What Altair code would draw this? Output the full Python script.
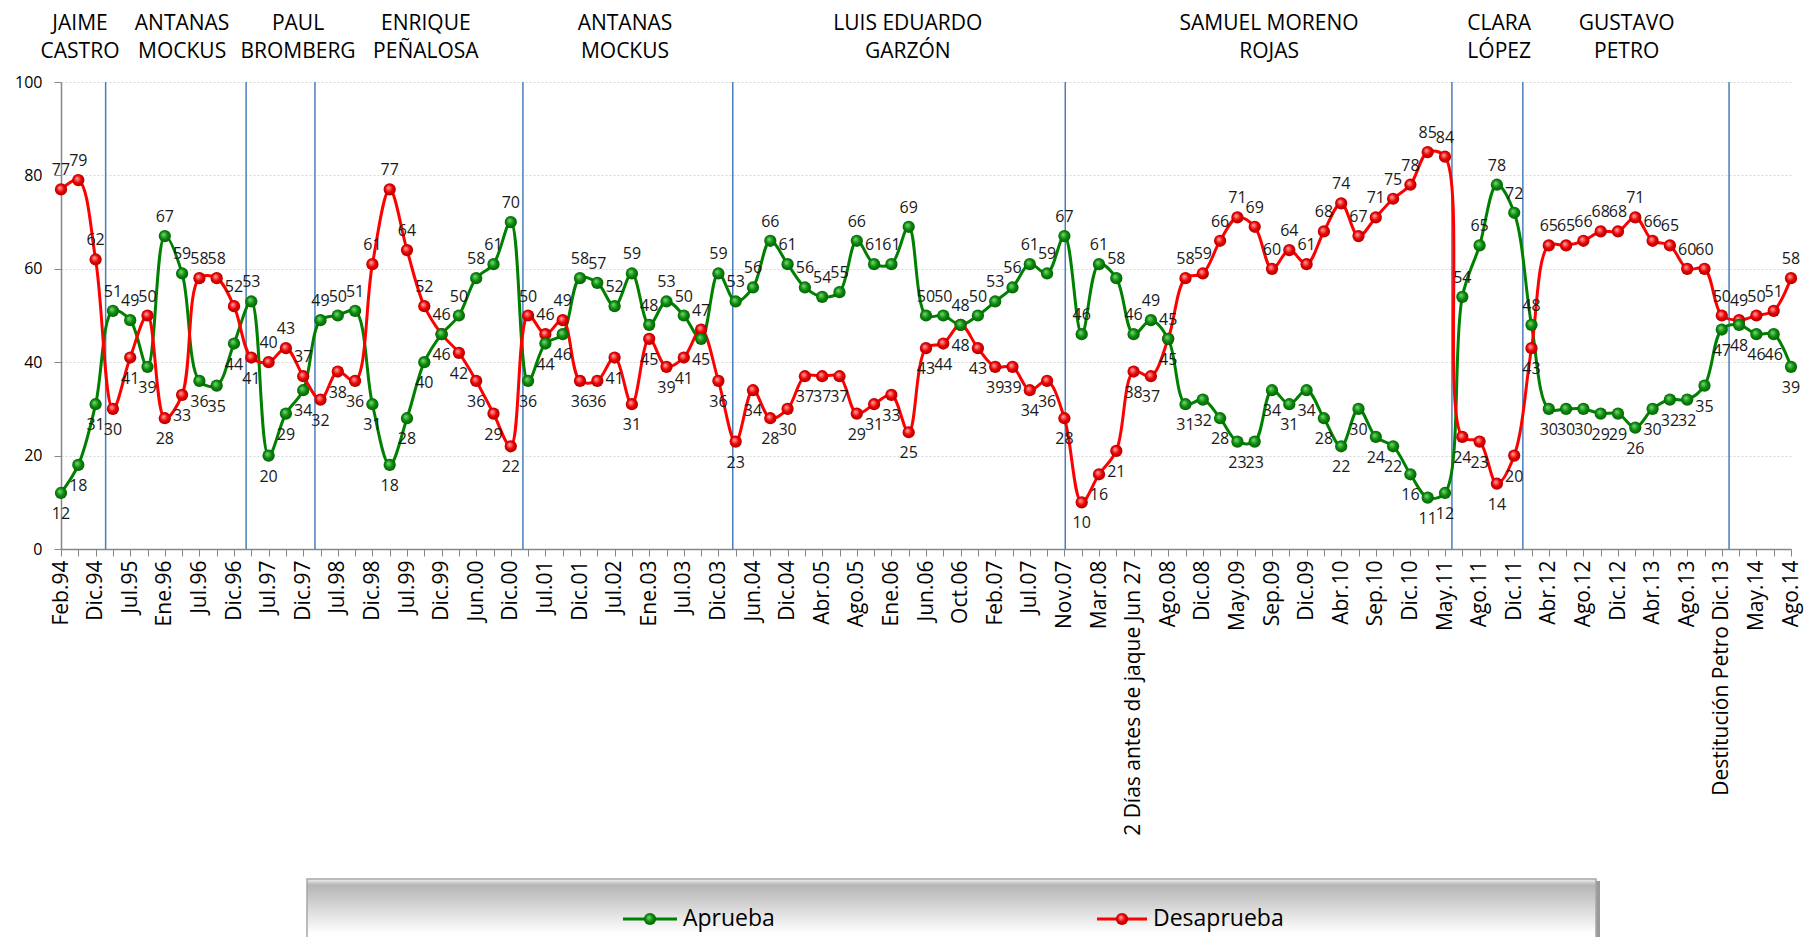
import json
import altair as alt
import pandas as pd

# ---------------- data ----------------
periodos = ["Feb.94", "Dic.94", "Jul.95", "Ene.96", "Jul.96", "Dic.96", "Jul.97", "Dic.97",
            "Jul.98", "Dic.98", "Jul.99", "Dic.99", "Jun.00", "Dic.00", "Jul.01", "Dic.01",
            "Jul.02", "Ene.03", "Jul.03", "Dic.03", "Jun.04", "Dic.04", "Abr.05", "Ago.05",
            "Ene.06", "Jun.06", "Oct.06", "Feb.07", "Jul.07", "Nov.07", "Mar.08",
            "2 Días antes de jaque Jun 27", "Ago.08", "Dic.08", "May.09", "Sep.09", "Dic.09",
            "Abr.10", "Sep.10", "Dic.10", "May.11", "Ago.11", "Dic.11", "Abr.12", "Ago.12",
            "Dic.12", "Abr.13", "Ago.13", "Destitución Petro Dic.13", "May.14", "Ago.14"]

aprueba = [12, 18, 31, 51, 49, 39, 67, 59, 36, 35,
           44, 53, 20, 29, 34, 49, 50, 51, 31, 18,
           28, 40, 46, 50, 58, 61, 70, 36, 44, 46,
           58, 57, 52, 59, 48, 53, 50, 45, 59, 53,
           56, 66, 61, 56, 54, 55, 66, 61, 61, 69,
           50, 50, 48, 50, 53, 56, 61, 59, 67, 46,
           61, 58, 46, 49, 45, 31, 32, 28, 23, 23,
           34, 31, 34, 28, 22, 30, 24, 22, 16, 11,
           12, 54, 65, 78, 72, 48, 30, 30, 30, 29,
           29, 26, 30, 32, 32, 35, 47, 48, 46, 46,
           39]

desaprueba = [77, 79, 62, 30, 41, 50, 28, 33, 58, 58,
              52, 41, 40, 43, 37, 32, 38, 36, 61, 77,
              64, 52, 46, 42, 36, 29, 22, 50, 46, 49,
              36, 36, 41, 31, 45, 39, 41, 47, 36, 23,
              34, 28, 30, 37, 37, 37, 29, 31, 33, 25,
              43, 44, 48, 43, 39, 39, 34, 36, 28, 10,
              16, 21, 38, 37, 45, 58, 59, 66, 71, 69,
              60, 64, 61, 68, 74, 67, 71, 75, 78, 85,
              84, 24, 23, 14, 20, 43, 65, 65, 66, 68,
              68, 71, 66, 65, 60, 60, 50, 49, 50, 51,
              58]

alcaldes_l1 = ["JAIME", "ANTANAS", "PAUL", "ENRIQUE", "ANTANAS", "LUIS EDUARDO",
               "SAMUEL MORENO", "CLARA", "GUSTAVO"]
alcaldes_l2 = ["CASTRO", "MOCKUS", "BROMBERG", "PEÑALOSA", "MOCKUS", "GARZÓN",
               "ROJAS", "LÓPEZ", "PETRO"]
alcaldes_pos = [1.1, 7.0, 13.7, 21.09, 32.6, 48.95, 69.83, 83.13, 90.5]
cambios_pos = [2.58, 10.7, 14.68, 26.7, 38.83, 58.05, 80.4, 84.5, 96.42]

# ---------------- frames ----------------
n = len(aprueba)
idx = list(range(n))
df = pd.DataFrame({
    "i": idx + idx,
    "valor": aprueba + desaprueba,
    "serie": ["Aprueba"] * n + ["Desaprueba"] * n,
})
otro = desaprueba + aprueba
df["arriba"] = [(v > o) or (v == o and s == "Desaprueba")
                for v, o, s in zip(df["valor"], otro, df["serie"])]

tick_text = []
for k in range(n):
    tick_text.append(periodos[k // 2] if k % 2 == 0 else "")
label_expr = json.dumps(tick_text, ensure_ascii=False) + "[datum.value]"

FONT = "Open Sans"
W, H = 1730, 467

xenc = alt.X("i:Q", title=None,
             scale=alt.Scale(domain=[0, n - 1], nice=False, zero=False),
             axis=alt.Axis(values=idx, labelExpr=label_expr, labelAngle=270,
                           labelFontSize=21, labelFont=FONT, labelColor="#000000",
                           labelOverlap=False, labelFlush=False, labelPadding=4,
                           labelLimit=600,
                           tickSize=7, tickColor="#868686", domainColor="#868686",
                           domainWidth=1.5, grid=False))
yenc = alt.Y("valor:Q", title=None,
             scale=alt.Scale(domain=[0, 100], nice=False),
             axis=alt.Axis(values=[0, 20, 40, 60, 80, 100], labelFontSize=16,
                           labelFont=FONT, labelColor="#000000", labelPadding=12,
                           tickSize=7, tickColor="#868686", domainColor="#868686",
                           domainWidth=1.5, grid=True, gridColor="#d9d9d9",
                           gridDash=[2, 2], gridWidth=1))

verde = "#008000"
rojo = "#ff0000"

def esfera(c0, c1, c2):
    return {"gradient": "radial", "x1": 0.38, "y1": 0.35, "r1": 0.0,
            "x2": 0.5, "y2": 0.5, "r2": 0.55,
            "stops": [{"offset": 0, "color": c0}, {"offset": 0.55, "color": c1},
                      {"offset": 1, "color": c2}]}

fill_v = esfera("#7fdc7f", "#0a8a0a", "#045a04")
fill_r = esfera("#ffb0b0", "#ee0000", "#a00000")

base = alt.Chart(df)

lineas = base.mark_line(interpolate="catmull-rom", strokeWidth=3).encode(
    x=xenc, y=yenc,
    color=alt.Color("serie:N", scale=alt.Scale(domain=["Aprueba", "Desaprueba"],
                                               range=[verde, rojo]), legend=None),
    detail="serie:N")

pts_v = base.transform_filter(alt.datum.serie == "Aprueba").mark_point(
    filled=True, size=150, fill=fill_v, opacity=1, strokeWidth=0).encode(x=xenc, y=yenc)
pts_r = base.transform_filter(alt.datum.serie == "Desaprueba").mark_point(
    filled=True, size=150, fill=fill_r, opacity=1, strokeWidth=0).encode(x=xenc, y=yenc)

lab_up = base.transform_filter(alt.datum.arriba == True).mark_text(
    baseline="alphabetic", dy=-14, fontSize=16, font=FONT, color="#1a1a1a").encode(
    x=xenc, y=yenc, text="valor:Q")
lab_dn = base.transform_filter(alt.datum.arriba == False).mark_text(
    baseline="top", dy=13, fontSize=16, font=FONT, color="#1a1a1a").encode(
    x=xenc, y=yenc, text="valor:Q")

cambios_df = pd.DataFrame({"i": cambios_pos})
reglas = alt.Chart(cambios_df).mark_rule(color="#4a7ebb", strokeWidth=1.5).encode(
    x=xenc, y=alt.value(0), y2=alt.value(H))

nombres_df = pd.DataFrame({"i": alcaldes_pos, "l1": alcaldes_l1, "l2": alcaldes_l2})
nom1 = alt.Chart(nombres_df).mark_text(fontSize=21, font=FONT, color="#000000",
                                       baseline="middle").encode(
    x=xenc, y=alt.value(-58), text="l1:N")
nom2 = alt.Chart(nombres_df).mark_text(fontSize=21, font=FONT, color="#000000",
                                       baseline="middle").encode(
    x=xenc, y=alt.value(-30), text="l2:N")

# ---------------- legend box ----------------
uno = pd.DataFrame({"a": [0]})
caja_grad = {"gradient": "linear", "x1": 0, "y1": 0, "x2": 0, "y2": 1,
             "stops": [{"offset": 0, "color": "#f2f2f2"},
                       {"offset": 0.06, "color": "#b5b5b5"},
                       {"offset": 0.55, "color": "#ffffff"},
                       {"offset": 1, "color": "#ffffff"}]}
sombra = alt.Chart(uno).mark_rect(color="#9a9a9a").encode(
    x=alt.value(248), x2=alt.value(1539), y=alt.value(799), y2=alt.value(900))
caja = alt.Chart(uno).mark_rect(fill=caja_grad, stroke="#a6a6a6", strokeWidth=1.5).encode(
    x=alt.value(246), x2=alt.value(1535), y=alt.value(797), y2=alt.value(896))

LY = 837
leg_lv = alt.Chart(uno).mark_rule(color=verde, strokeWidth=3).encode(
    x=alt.value(562), x2=alt.value(616), y=alt.value(LY))
leg_lr = alt.Chart(uno).mark_rule(color=rojo, strokeWidth=3).encode(
    x=alt.value(1036), x2=alt.value(1086), y=alt.value(LY))
leg_pv = alt.Chart(uno).mark_point(filled=True, size=150, fill=fill_v, opacity=1,
                                   strokeWidth=0).encode(x=alt.value(589), y=alt.value(LY))
leg_pr = alt.Chart(uno).mark_point(filled=True, size=150, fill=fill_r, opacity=1,
                                   strokeWidth=0).encode(x=alt.value(1061), y=alt.value(LY))
leg_tv = alt.Chart(uno).mark_text(text="Aprueba", align="left", baseline="middle",
                                  fontSize=23, font=FONT, color="#000000").encode(
    x=alt.value(622), y=alt.value(LY))
leg_tr = alt.Chart(uno).mark_text(text="Desaprueba", align="left", baseline="middle",
                                  fontSize=23, font=FONT, color="#000000").encode(
    x=alt.value(1092), y=alt.value(LY))

chart = alt.layer(
    reglas, lineas, pts_r, pts_v, lab_up, lab_dn, nom1, nom2,
    sombra, caja, leg_lv, leg_lr, leg_pv, leg_pr, leg_tv, leg_tr
).properties(
    width=W, height=H,
    autosize=alt.AutoSizeParams(type="none"),
    padding={"left": 53, "top": 74, "right": 15, "bottom": 388},
    background="#ffffff",
).configure_view(stroke=None)

chart.save("out.html", embed_options={"renderer": "svg", "actions": False})
